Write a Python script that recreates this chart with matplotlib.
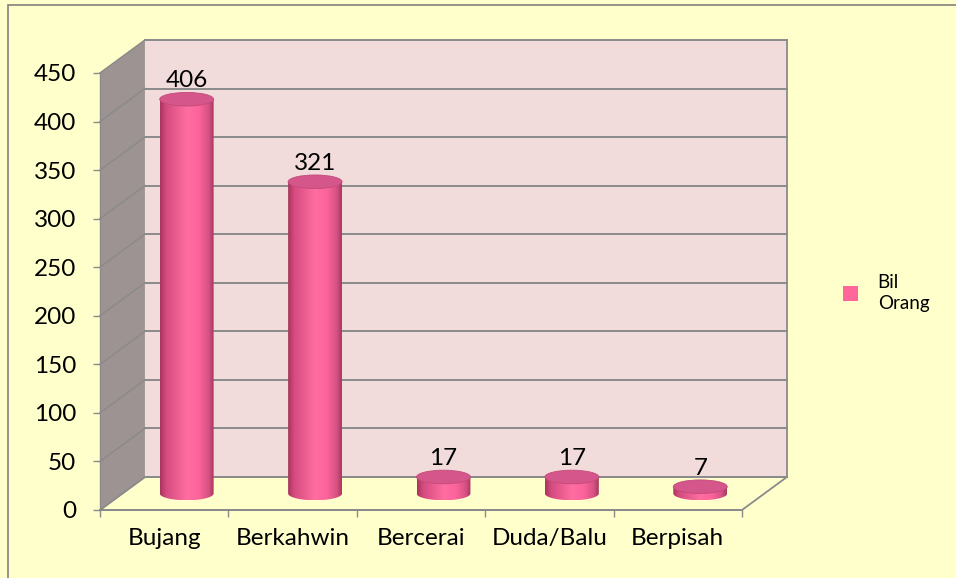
import numpy as np
import matplotlib
matplotlib.use("Agg")
import matplotlib.pyplot as plt
from matplotlib.patches import Polygon, Ellipse, Rectangle, Patch
from matplotlib.colors import LinearSegmentedColormap

categories = ["Bujang", "Berkahwin", "Bercerai", "Duda/Balu", "Berpisah"]
values = [406, 321, 17, 17, 7]
series_name = "Bil\nOrang"
yticks = list(range(0, 451, 50))

plt.rcParams['font.family'] = ['Lato', 'DejaVu Sans']

W, H = 956, 578
fig = plt.figure(figsize=(W / 100, H / 100), dpi=100)
fig.patch.set_facecolor('#FFFFCC')

ax = fig.add_axes([100 / W, 68 / H, 642 / W, 437 / H])
ax.set_facecolor('none')
for s in ax.spines.values():
    s.set_visible(False)

n = len(categories)
YMAX = 450
DX = 0.35      # depth offset in category units
DY = 34        # depth offset in value units
gridc = '#8A8A8A'

# floor
ax.add_patch(Polygon([(0, 0), (n, 0), (n + DX, DY), (DX, DY)], closed=True,
                     facecolor='#FFFFCC', edgecolor=gridc, lw=1.3, zorder=1, clip_on=False))
# side wall
ax.add_patch(Polygon([(0, 0), (DX, DY), (DX, YMAX + DY), (0, YMAX)], closed=True,
                     facecolor='#9E9393', edgecolor='none', zorder=1, clip_on=False))
# back wall
ax.add_patch(Polygon([(DX, DY), (n + DX, DY), (n + DX, YMAX + DY), (DX, YMAX + DY)], closed=True,
                     facecolor='#F2DCDB', edgecolor='none', zorder=1, clip_on=False))
# gridlines
for v in yticks:
    ax.plot([DX, n + DX], [v + DY, v + DY], color=gridc, lw=1.4, zorder=2, clip_on=False)
    ax.plot([0, DX], [v, v + DY], color=gridc, lw=1.1, zorder=2, clip_on=False)
ax.plot([n + DX, n + DX], [DY, YMAX + DY], color=gridc, lw=1.3, zorder=2, clip_on=False)
ax.plot([0, 0], [0, YMAX], color=gridc, lw=1.0, zorder=2, clip_on=False)
ax.plot([0, n], [0, 0], color=gridc, lw=1.4, zorder=2, clip_on=False)

# cylinders
cmap = LinearSegmentedColormap.from_list('cyl', [
    (0.0, '#A8355D'), (0.12, '#D64C80'), (0.5, '#FF6DA0'),
    (0.72, '#FB649B'), (0.9, '#D85284'), (1.0, '#A9385F')])
grad = np.linspace(0, 1, 256).reshape(1, -1)
cw = 0.42
eh = 14
for i, v in enumerate(values):
    xc = i + 0.5 + DX / 2
    yb = DY / 2
    yt = v + DY / 2
    th = np.linspace(np.pi, 2 * np.pi, 60)
    pts = [(xc + cw / 2 * np.cos(t), yb + eh / 2 * np.sin(t)) for t in th]
    pts += [(xc + cw / 2, yt), (xc - cw / 2, yt)]
    body = Polygon(pts, closed=True, facecolor='none', edgecolor='none', zorder=3, clip_on=False)
    ax.add_patch(body)
    im = ax.imshow(grad, cmap=cmap, extent=[xc - cw / 2, xc + cw / 2, yb - eh / 2, yt],
                   aspect='auto', interpolation='bilinear', zorder=3)
    im.set_clip_path(body)
    ax.add_patch(Ellipse((xc, yt), cw, eh, facecolor='#D5568A', edgecolor='#C24A79',
                         lw=0.6, zorder=4, clip_on=False))
    ax.text(xc, yt + 19, str(v), ha='center', va='center', fontsize=17.5,
            color='black', zorder=5)

ax.set_xlim(0, n)
ax.set_ylim(0, YMAX)
ax.set_yticks(yticks)
ax.set_yticklabels([str(t) for t in yticks])
ax.set_xticks(range(n + 1))
ax.set_xticklabels([])
ax.set_xticks([i + 0.5 for i in range(n)], minor=True)
ax.set_xticklabels(categories, minor=True)
ax.tick_params(axis='y', direction='out', length=5, width=1, color=gridc, pad=12, labelsize=17.5)
ax.tick_params(axis='x', which='major', direction='out', length=5, width=1, color=gridc)
ax.tick_params(axis='x', which='minor', length=0, pad=13, labelsize=17.5)

leg = ax.legend(handles=[Patch(facecolor='#FF6699', edgecolor='none')], labels=[series_name],
                loc='center left', bbox_to_anchor=(843 / W, (H - 293) / H),
                bbox_transform=fig.transFigure, frameon=False, fontsize=13.5,
                handlelength=0.8, handleheight=0.8, handletextpad=1.05,
                borderpad=0, borderaxespad=0)
for t in leg.get_texts():
    t.set_linespacing(1.35)

fig.add_artist(Rectangle((8 / W, -0.05), 1.2, (H - 5) / H + 0.05, transform=fig.transFigure,
                         fill=False, edgecolor='#808080', lw=1.2))

fig.savefig('out.png', dpi=100, facecolor=fig.get_facecolor())
